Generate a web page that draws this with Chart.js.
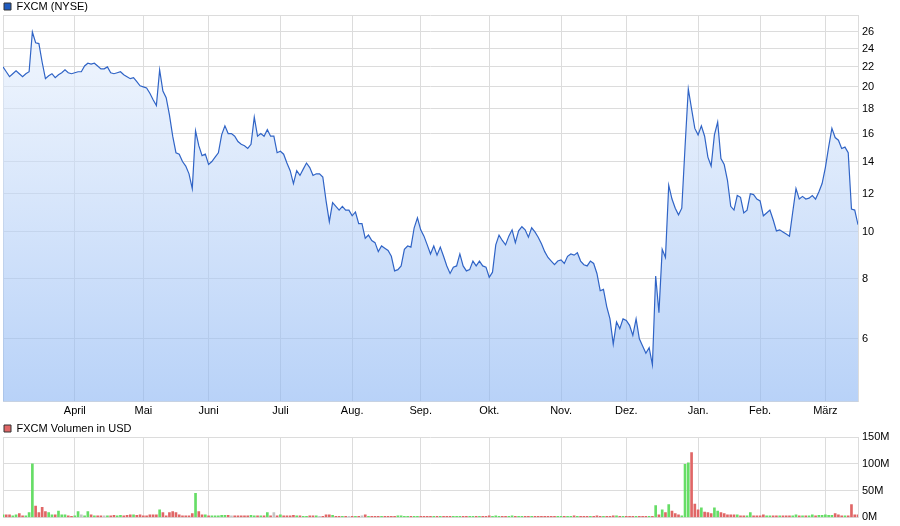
<!DOCTYPE html>
<html>
<head>
<meta charset="utf-8">
<title>FXCM (NYSE)</title>
<script src="https://cdn.jsdelivr.net/npm/chart.js@4.4.1/dist/chart.umd.min.js"></script>
<style>
  body { margin: 0; background: #fff; overflow: hidden; }
  #wrap { position: relative; width: 900px; height: 526px; overflow: hidden; }
  canvas { position: absolute; left: 0; }
  #priceChart { top: 0; }
  #volChart { top: 420px; }
</style>
</head>
<body>
<div id="wrap">
  <canvas id="priceChart" width="900" height="421"></canvas>
  <canvas id="volChart" width="900" height="108"></canvas>
</div>
<script>
// month labels and the index of the first trading day of each month
const monthLabels = ['April', 'Mai', 'Juni', 'Juli', 'Aug.', 'Sep.', 'Okt.', 'Nov.', 'Dez.', 'Jan.', 'Feb.', 'März'];
const monthIdx = [22, 43, 63, 85, 107, 128, 149, 171, 191, 213, 232, 252];

// tick labels
const priceTicks = [6, 8, 10, 12, 14, 16, 18, 20, 22, 24, 26];
const volTicks = [0, 50, 100, 150];

// daily close, USD
const price = [
  22.0, 21.5, 21.0, 21.3, 21.6, 21.3, 21.0, 21.3, 21.5, 26.0,
  24.7, 24.6, 22.5, 20.8, 21.1, 21.3, 20.9, 21.2, 21.4, 21.7,
  21.4, 21.3, 21.4, 21.5, 21.5, 22.1, 22.4, 22.3, 22.4, 22.1,
  21.8, 21.8, 22.0, 21.4, 21.3, 21.4, 21.5, 21.2, 21.0, 20.8,
  20.9, 20.5, 20.1, 20.0, 19.9, 19.4, 18.8, 18.3, 21.7, 19.6,
  19.0, 17.5, 15.8, 14.6, 14.5, 14.0, 13.7, 13.2, 12.3, 16.2,
  15.1, 14.4, 14.5, 13.8, 14.0, 14.3, 14.6, 15.9, 16.6, 16.0,
  16.0, 15.8, 15.4, 15.2, 15.1, 14.9, 15.2, 17.3, 15.8, 16.0,
  15.8, 16.3, 15.8, 15.8, 14.6, 14.7, 14.5, 13.9, 13.4, 12.6,
  13.4, 13.1, 13.5, 13.9, 13.6, 13.1, 13.2, 13.2, 13.0, 11.6,
  10.5, 11.5, 11.3, 11.1, 11.3, 11.1, 11.1, 10.8, 11.0, 10.4,
  10.4, 9.7, 9.85, 9.6, 9.5, 9.1, 9.35, 9.25, 9.15, 8.9,
  8.3, 8.35, 8.5, 9.2, 9.35, 9.3, 10.2, 10.7, 10.1, 9.8,
  9.4, 9.0, 9.35, 8.95, 9.3, 8.9, 8.5, 8.2, 8.45, 8.5,
  9.0, 8.5, 8.3, 8.35, 8.7, 8.5, 8.7, 8.5, 8.45, 8.05,
  8.25, 9.4, 9.85, 9.6, 9.4, 9.8, 10.1, 9.5, 10.05, 10.25,
  10.1, 9.75, 10.2, 10.0, 9.75, 9.45, 9.1, 8.85, 8.7, 8.55,
  8.7, 8.75, 8.6, 8.9, 9.0, 8.95, 9.05, 8.7, 8.55, 8.5,
  8.7, 8.6, 8.2, 7.55, 7.6, 7.0, 6.6, 5.85, 6.5, 6.3,
  6.6, 6.55, 6.4, 6.1, 6.6, 6.0, 5.8, 5.6, 5.75, 5.3,
  8.1, 6.8, 9.2, 8.85, 12.5, 11.7, 11.2, 10.85, 11.2, 15.0,
  19.8, 18.0, 16.4, 15.9, 16.6, 15.8, 14.3, 13.7, 15.9, 16.9,
  14.2, 13.8, 12.8, 11.3, 11.1, 11.9, 11.8, 10.95, 11.1, 12.0,
  11.95, 11.7, 11.6, 10.8, 10.95, 11.1, 10.6, 10.05, 10.1, 10.0,
  9.9, 9.8, 11.0, 12.3, 11.7, 11.85, 11.7, 11.75, 11.9, 11.7,
  12.1, 12.6, 13.6, 15.0, 16.4, 15.7, 15.5, 14.9, 15.0, 14.6,
  11.15, 11.1, 10.35
];

// daily volume, million USD
const volume = [
  5, 5, 5, 3, 5, 7, 3, 3, 9, 100,
  21, 9, 19, 11, 9, 5, 5, 12, 5, 5,
  3, 2, 3, 11, 5, 3, 11, 5, 3, 3,
  3, 3, 3, 3, 4, 3, 4, 3, 4, 5,
  5, 4, 5, 3, 3, 5, 5, 5, 14, 9,
  3, 9, 11, 9, 5, 3, 3, 3, 7, 45,
  11, 5, 5, 3, 3, 3, 3, 4, 4, 4,
  3, 3, 3, 3, 3, 3, 4, 3, 3, 3,
  3, 9, 3, 9, 3, 5, 3, 3, 3, 4,
  3, 3, 2, 2, 3, 3, 3, 2, 2, 5,
  5, 4, 2, 2, 2, 2, 2, 2, 2, 2,
  3, 5, 2, 2, 2, 2, 2, 2, 2, 2,
  2, 3, 3, 2, 2, 2, 2, 2, 2, 2,
  2, 2, 2, 2, 2, 2, 2, 2, 2, 2,
  2, 2, 2, 2, 2, 2, 2, 2, 2, 3,
  2, 3, 2, 2, 2, 2, 3, 2, 2, 2,
  2, 2, 2, 2, 2, 2, 2, 2, 2, 2,
  2, 2, 2, 2, 2, 3, 2, 2, 2, 2,
  2, 2, 3, 2, 2, 2, 2, 3, 3, 2,
  2, 2, 2, 2, 2, 2, 2, 2, 2, 2,
  22, 5, 14, 9, 24, 12, 7, 5, 3, 99,
  102, 121, 25, 14, 18, 10, 9, 7, 18, 12,
  9, 7, 5, 5, 5, 5, 3, 3, 3, 9,
  3, 3, 3, 5, 3, 3, 3, 3, 3, 3,
  3, 3, 3, 5, 3, 3, 3, 3, 5, 3,
  4, 4, 5, 4, 4, 7, 5, 3, 3, 3,
  24, 5, 5
];

const lastIdx = price.length - 1;
const priceMin = 4.44, priceMax = 28.2;
const gridColor = '#dcdcdc';

Chart.defaults.font.family = "'Liberation Sans', Arial, sans-serif";
Chart.defaults.font.size = 11;
Chart.defaults.color = '#000';

// bar colour follows the daily move
var volColors = volume.map(function (v, i) {
  if (i === 0 || price[i] > price[i - 1]) return '#66dd66';
  if (price[i] < price[i - 1]) return '#e06666';
  return '#c4c4c4';
});

// x ticks: both edges plus every month start
function xTicks(scale) {
  var t = [{value: 0}];
  monthIdx.forEach(function (m) { t.push({value: m}); });
  t.push({value: lastIdx});
  scale.ticks = t;
}
function xLabel(value) {
  var k = monthIdx.indexOf(value);
  return k >= 0 ? monthLabels[k] : '';
}

function legendBox(text, fill, h) {
  return {
    display: true,
    align: 'start',
    maxHeight: h,
    onClick: null,
    labels: {
      boxWidth: 7,
      boxHeight: 7,
      padding: 1,
      color: '#222',
      generateLabels: function () {
        return [{text: text, fillStyle: fill, strokeStyle: '#333', lineWidth: 1, hidden: false, datasetIndex: 0}];
      }
    }
  };
}

// price chart
new Chart(document.getElementById('priceChart'), {
  type: 'line',
  data: {
    datasets: [{
      label: 'FXCM (NYSE)',
      data: price.map(function (p, i) { return {x: i, y: p}; }),
      borderColor: '#3064c6',
      borderWidth: 1.2,
      pointRadius: 0,
      tension: 0,
      fill: 'start',
      backgroundColor: function (ctx) {
        var a = ctx.chart.chartArea;
        if (!a) return 'rgba(180,205,245,0.6)';
        var g = ctx.chart.ctx.createLinearGradient(0, a.top, 0, a.bottom);
        g.addColorStop(0, 'rgba(236,243,253,0.6)');
        g.addColorStop(1, 'rgba(137,180,243,0.6)');
        return g;
      }
    }]
  },
  options: {
    responsive: false,
    animation: false,
    layout: {padding: {left: 3, right: 0, top: 0, bottom: 0}},
    plugins: {
      legend: legendBox('FXCM (NYSE)', '#1f5bbf', 15),
      tooltip: {enabled: false}
    },
    scales: {
      x: {
        type: 'linear',
        min: 0,
        max: lastIdx,
        afterBuildTicks: xTicks,
        ticks: {callback: xLabel, autoSkip: false, maxRotation: 0, padding: 3},
        grid: {color: gridColor, drawTicks: false},
        border: {color: gridColor}
      },
      y: {
        type: 'logarithmic',
        position: 'right',
        min: priceMin,
        max: priceMax,
        afterBuildTicks: function (s) {
          s.ticks = [priceMin].concat(priceTicks, [priceMax]).map(function (v) { return {value: v}; });
        },
        afterFit: function (s) { s.width = 42; },
        ticks: {
          autoSkip: false,
          padding: 4,
          callback: function (v) { return priceTicks.indexOf(v) >= 0 ? String(v) : ''; }
        },
        grid: {color: gridColor, drawTicks: false},
        border: {color: gridColor}
      }
    }
  }
});

// volume chart
new Chart(document.getElementById('volChart'), {
  type: 'bar',
  data: {
    datasets: [{
      label: 'FXCM Volumen in USD',
      data: volume.map(function (v, i) { return {x: i, y: v}; }),
      backgroundColor: volColors,
      barThickness: 2
    }]
  },
  options: {
    responsive: false,
    animation: false,
    layout: {padding: {left: 3, right: 0, top: 2, bottom: 0}},
    plugins: {
      legend: legendBox('FXCM Volumen in USD', '#e06666', 15),
      tooltip: {enabled: false}
    },
    scales: {
      x: {
        type: 'linear',
        min: 0,
        max: lastIdx,
        offset: false,
        afterBuildTicks: xTicks,
        ticks: {display: false},
        grid: {color: gridColor, drawTicks: false, offset: false},
        border: {color: gridColor}
      },
      y: {
        position: 'right',
        min: 0,
        max: 150,
        afterBuildTicks: function (s) {
          s.ticks = volTicks.map(function (v) { return {value: v}; });
        },
        afterFit: function (s) { s.width = 42; },
        ticks: {
          autoSkip: false,
          padding: 4,
          callback: function (v) { return v + 'M'; }
        },
        grid: {color: gridColor, drawTicks: false},
        border: {color: gridColor}
      }
    }
  }
});
</script>
</body>
</html>
